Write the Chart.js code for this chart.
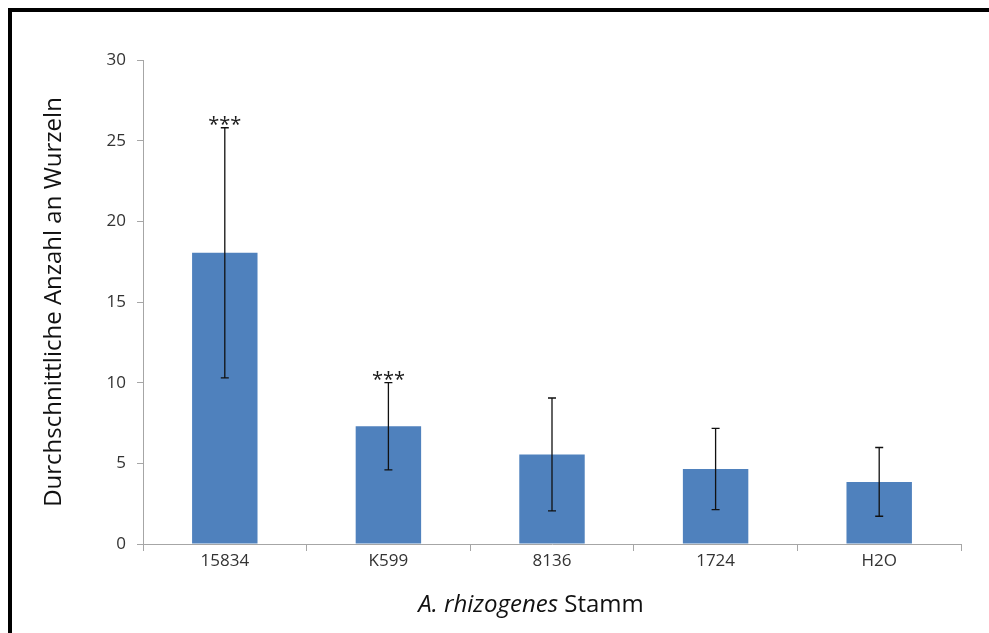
<!DOCTYPE html>
<html><head><meta charset="utf-8">
<script src="https://cdn.jsdelivr.net/npm/chart.js@4"></script>
<style>html,body{margin:0;padding:0;background:#fff}#wrap{width:989px;height:633px}</style>
</head><body><div id="wrap"><canvas id="c" width="989" height="633"></canvas></div>
<script>
const categories = ['15834', 'K599', '8136', '1724', 'H2O'];
const means = [18.05, 7.3, 5.55, 4.65, 3.85];
const errors = [7.75, 2.7, 3.5, 2.52, 2.13];
const significance = ['***', '***', '', '', ''];
const yTicks = [0, 5, 10, 15, 20, 25, 30];
const yTitle = 'Durchschnittliche Anzahl an Wurzeln';
const xTitleItalic = 'A. rhizogenes';
const xTitleNormal = ' Stamm';

const FONT = '"Open Sans", "Liberation Sans", sans-serif';

const overlay = {
  id: 'overlay',
  afterDatasetsDraw(chart) {
    const ctx = chart.ctx, x = chart.scales.x, y = chart.scales.y;
    ctx.save();
    ctx.strokeStyle = '#111';
    ctx.lineWidth = 1.3;
    means.forEach((m, i) => {
      const cx = x.getPixelForValue(i);
      const top = y.getPixelForValue(m + errors[i]);
      const bot = y.getPixelForValue(m - errors[i]);
      ctx.beginPath();
      ctx.moveTo(cx, top); ctx.lineTo(cx, bot);
      ctx.moveTo(cx - 4, top); ctx.lineTo(cx + 4, top);
      ctx.moveTo(cx - 4, bot); ctx.lineTo(cx + 4, bot);
      ctx.stroke();
      if (significance[i]) {
        ctx.fillStyle = '#1a1a1a';
        ctx.font = '20px ' + FONT;
        ctx.textAlign = 'center';
        ctx.textBaseline = 'alphabetic';
        const mt = ctx.measureText(significance[i]);
        const asc = mt.actualBoundingBoxAscent, desc = mt.actualBoundingBoxDescent;
        const mid = (asc - desc) / 2;
        ctx.fillText(significance[i], cx, top - 7.5 + mid);
      }
    });
    // x-axis title with mixed styles
    ctx.fillStyle = '#111';
    ctx.textBaseline = 'alphabetic';
    const fItal = 'italic 24px ' + FONT, fNorm = '24px ' + FONT;
    ctx.font = fItal; const w1 = ctx.measureText(xTitleItalic).width;
    ctx.font = fNorm; const w2 = ctx.measureText(xTitleNormal).width;
    const startX = 531 - (w1 + w2) / 2;
    ctx.textAlign = 'left';
    ctx.font = fItal; ctx.fillText(xTitleItalic, startX, 612);
    ctx.font = fNorm; ctx.fillText(xTitleNormal, startX + w1, 612);
    // frame
    ctx.strokeStyle = '#000';
    ctx.lineWidth = 4;
    ctx.strokeRect(10, 10, 1200, 1200);
    ctx.restore();
  }
};

new Chart(document.getElementById('c'), {
  type: 'bar',
  data: {
    labels: categories,
    datasets: [{ data: means, backgroundColor: '#4F81BD', borderWidth: 0,
      barPercentage: 0.4, categoryPercentage: 1 }]
  },
  options: {
    responsive: false, animation: false,
    layout: { padding: { top: 60, right: 28, bottom: 0, left: 0 } },
    plugins: { legend: { display: false }, tooltip: { enabled: false }, title: { display: false } },
    scales: {
      x: {
        grid: { display: true, drawOnChartArea: false, offset: true, color: '#a6a6a6', tickLength: 7, tickWidth: 1 },
        border: { color: '#a6a6a6', width: 1 },
        ticks: { color: '#333', font: { family: FONT, size: 17 }, padding: 0 },
        afterFit(s) { s.height = 89; }
      },
      y: {
        min: 0, max: 30,
        afterBuildTicks(s) { s.ticks = yTicks.map(v => ({ value: v })); },
        grid: { display: true, drawOnChartArea: false, color: '#a6a6a6', tickLength: 6 },
        border: { color: '#a6a6a6', width: 1 },
        ticks: { color: '#333', font: { family: FONT, size: 17 }, padding: 11 },
        title: { display: true, text: yTitle, color: '#111', font: { family: FONT, size: 24 }, padding: { top: 40, bottom: 0 } },
        afterFit(s) { s.width = 143; }
      }
    }
  },
  plugins: [overlay]
});
</script></body></html>
